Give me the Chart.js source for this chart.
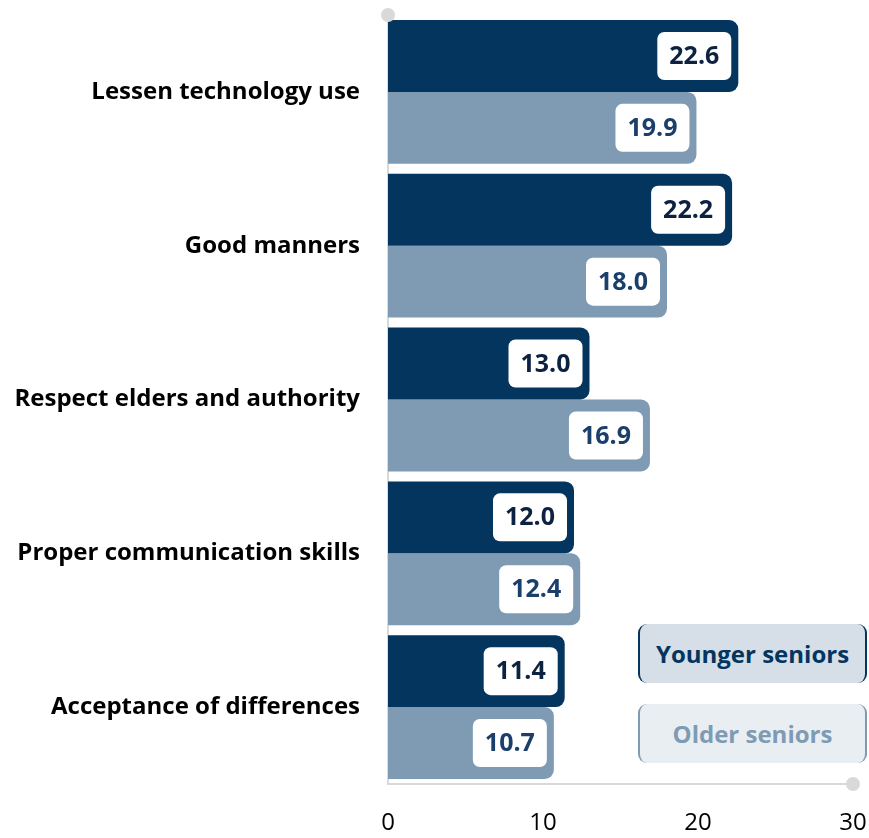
<!DOCTYPE html>
<html>
<head>
<meta charset="utf-8">
<script src="https://cdn.jsdelivr.net/npm/chart.js@4/dist/chart.umd.min.js"></script>
<style>
  html, body { margin: 0; padding: 0; background: #ffffff; }
  #wrap { position: relative; width: 869px; height: 838px; overflow: hidden; }
  #c { position: absolute; left: 0; top: 0; }
  .leg {
    position: absolute; left: 638px; width: 229px; height: 59px;
    border-radius: 9px; box-sizing: border-box;
    font-family: "Open Sans", sans-serif; font-weight: bold; font-size: 24px;
    display: flex; align-items: center; justify-content: center;
  }
  #leg1 { top: 624px; background: #d6dfe7; color: #03355f; border-left: 2px solid #03355f; border-right: 2px solid #03355f; }
  #leg2 { top: 704px; background: #e8eef2; color: #7f9bb4; border-left: 2px solid #7f9bb4; border-right: 2px solid #7f9bb4; }
</style>
</head>
<body>
<div id="wrap">
  <canvas id="c" width="869" height="838"></canvas>
  <div class="leg" id="leg1">Younger seniors</div>
  <div class="leg" id="leg2">Older seniors</div>
</div>
<script>
const categories = [
  "Lessen technology use",
  "Good manners",
  "Respect elders and authority",
  "Proper communication skills",
  "Acceptance of differences"
];
const youngerSeniors = [22.6, 22.2, 13.0, 12.0, 11.4];
const olderSeniors = [19.9, 18.0, 16.9, 12.4, 10.7];
const xTicks = [0, 10, 20, 30];
const seriesNames = ["Younger seniors", "Older seniors"];

const FONT = "'Open Sans', sans-serif";

const labelPlugin = {
  id: 'boxLabels',
  afterDatasetsDraw(chart) {
    const ctx = chart.ctx;
    const textColors = ['#0d2240', '#1a3f6b'];
    chart.data.datasets.forEach((ds, di) => {
      const meta = chart.getDatasetMeta(di);
      meta.data.forEach((bar, i) => {
        const txt = ds.data[i].toFixed(1);
        ctx.save();
        ctx.font = "bold 25px " + FONT;
        const w = 74, h = 48, r = 7;
        const right = bar.x - 7;
        const left = right - w;
        const top = bar.y - h / 2;
        ctx.beginPath();
        ctx.roundRect(left, top, w, h, r);
        ctx.fillStyle = '#ffffff';
        ctx.fill();
        ctx.fillStyle = textColors[di];
        ctx.textAlign = 'center';
        ctx.textBaseline = 'middle';
        ctx.fillText(txt, left + w / 2, bar.y + 1);
        ctx.restore();
      });
    });
  },
  afterDraw(chart) {
    const ctx = chart.ctx;
    const a = chart.chartArea;
    ctx.save();
    ctx.fillStyle = '#d9d9d9';
    ctx.beginPath(); ctx.arc(a.left, a.top, 7, 0, Math.PI * 2); ctx.fill();
    ctx.beginPath(); ctx.arc(a.right, a.bottom, 7, 0, Math.PI * 2); ctx.fill();
    ctx.restore();
  }
};

function zeroPad(scale) {
  scale.paddingTop = 0; scale.paddingBottom = 0;
  scale.paddingLeft = 0; scale.paddingRight = 0;
}

new Chart(document.getElementById('c'), {
  type: 'bar',
  data: {
    labels: categories,
    datasets: [
      { label: seriesNames[0], data: youngerSeniors, backgroundColor: '#03355f', borderRadius: 9,
        categoryPercentage: 0.935, barPercentage: 1.0 },
      { label: seriesNames[1], data: olderSeniors, backgroundColor: '#7f9bb4', borderRadius: 9,
        categoryPercentage: 0.935, barPercentage: 1.0 }
    ]
  },
  options: {
    indexAxis: 'y',
    responsive: false,
    animation: false,
    layout: { padding: { top: 15, right: 16, left: 0, bottom: 0 } },
    plugins: { legend: { display: false }, tooltip: { enabled: false } },
    scales: {
      x: {
        min: 0, max: 30,
        afterBuildTicks(scale) { scale.ticks = xTicks.map(v => ({ value: v })); },
        afterFit(scale) { scale.height = 54; zeroPad(scale); },
        grid: { display: false, drawTicks: false },
        border: { display: true, color: '#d9d9d9', width: 2 },
        ticks: { color: '#000000', font: { family: FONT, size: 24 }, padding: 25, maxRotation: 0 }
      },
      y: {
        afterFit(scale) { scale.width = 388; zeroPad(scale); },
        grid: { display: false, drawTicks: false },
        border: { display: true, color: '#d9d9d9', width: 2 },
        ticks: { color: '#000000', font: { family: FONT, size: 24, weight: 'bold' }, padding: 28 }
      }
    }
  },
  plugins: [labelPlugin]
});
</script>
</body>
</html>
